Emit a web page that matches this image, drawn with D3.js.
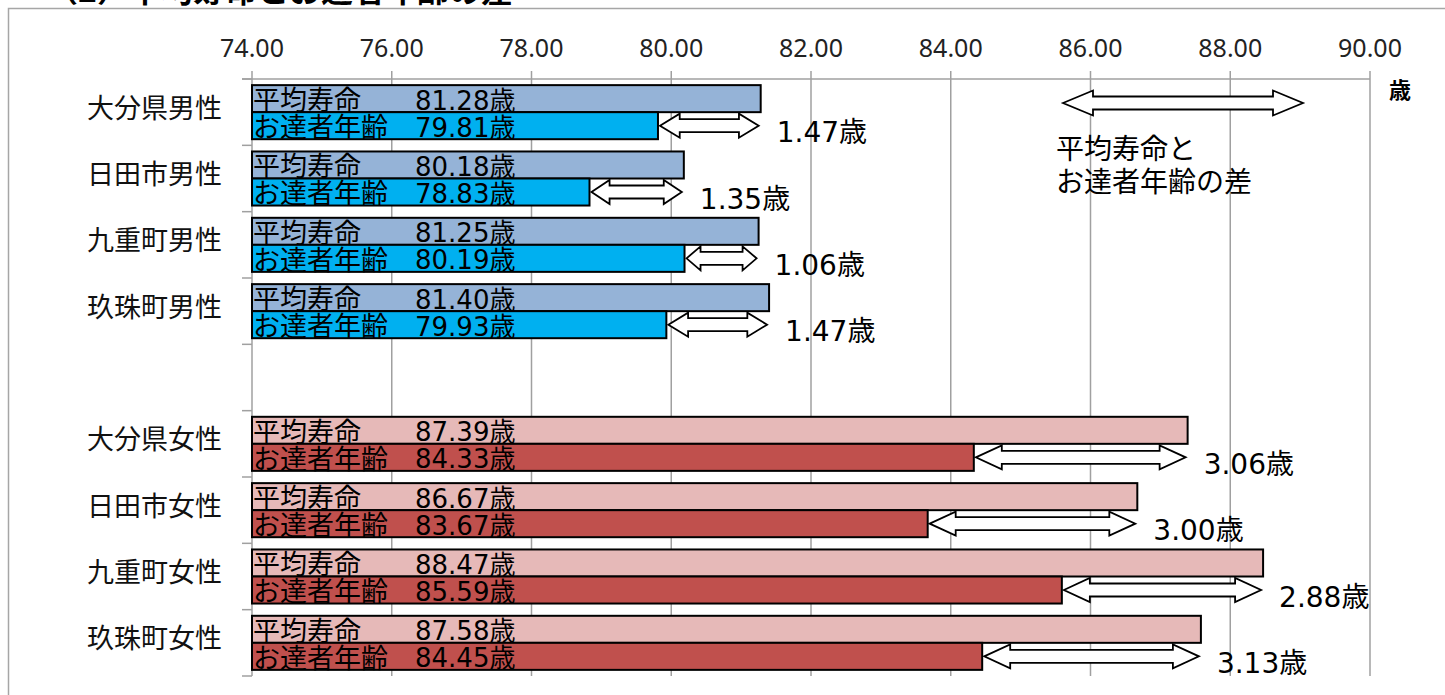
<!DOCTYPE html>
<html>
<head>
<meta charset="utf-8">
<script src="https://cdn.jsdelivr.net/npm/d3@7"></script>
<style>
  body { margin: 0; background: #fff; }
  svg { display: block; }
  text { font-family: "Noto Sans CJK JP", "Noto Sans", sans-serif; }
</style>
</head>
<body>
<div id="chart"></div>
<script>
// data
var slots = ["大分県男性","日田市男性","九重町男性","玖珠町男性","",
             "大分県女性","日田市女性","九重町女性","玖珠町女性"];
var areas = ["大分県男性","日田市男性","九重町男性","玖珠町男性",
             "大分県女性","日田市女性","九重町女性","玖珠町女性"];
var avgLife   = [81.28, 80.18, 81.25, 81.40, 87.39, 86.67, 88.47, 87.58];
var healthAge = [79.81, 78.83, 80.19, 79.93, 84.33, 83.67, 85.59, 84.45];
var gapYears  = [1.47, 1.35, 1.06, 1.47, 3.06, 3.00, 2.88, 3.13];
var sexes     = ["m","m","m","m","f","f","f","f"];
var ticks     = [74, 76, 78, 80, 82, 84, 86, 88, 90];
var seriesNames = ["平均寿命", "お達者年齢"];

var colAvg = {m: "#95b3d7", f: "#e6b9b8"};
var colHealth = {m: "#00b0f0", f: "#c0504d"};

var W = 1445, H = 695;
var svg = d3.select("#chart").append("svg")
    .attr("width", W)
    .attr("height", H);

// frame + cut-off title
svg.append("rect")
    .attr("x", 8.5).attr("y", 8.5)
    .attr("width", W).attr("height", H)
    .attr("fill", "none")
    .attr("stroke", "#a6a6a6")
    .attr("stroke-width", 1.5);

svg.append("text")
    .attr("x", 46).attr("y", 2)
    .style("font-size", "32px")
    .style("font-weight", "bold")
    .attr("fill", "#000")
    .text("（2）平均寿命とお達者年齢の差");

var x = d3.scaleLinear().domain([74, 90]).range([252, 1370]);
var y = d3.scaleBand().domain(slots).range([79, 676])
    .paddingInner(0.185).paddingOuter(0.0925);
var ySub = d3.scaleBand().domain(seriesNames).range([0, y.bandwidth()]);

var plotTop = 79, plotBottom = 676;

// vertical gridlines + top ticks
svg.append("g").selectAll("line")
    .data(ticks)
  .enter().append("line")
    .attr("x1", function(d) { return x(d); })
    .attr("x2", function(d) { return x(d); })
    .attr("y1", plotTop - 8)
    .attr("y2", plotBottom)
    .attr("stroke", "#a0a0a0")
    .attr("stroke-width", 1.5);

// top axis line
svg.append("line")
    .attr("x1", 242).attr("x2", x(90))
    .attr("y1", plotTop).attr("y2", plotTop)
    .attr("stroke", "#a0a0a0").attr("stroke-width", 1.5);

// category ticks on the left
var bounds = slots.map(function(d) { return y(d) - y.step() * y.paddingOuter(); });
bounds.push(plotBottom);
svg.append("g").selectAll("line")
    .data(bounds)
  .enter().append("line")
    .attr("x1", 242).attr("x2", x(74))
    .attr("y1", function(d) { return d; })
    .attr("y2", function(d) { return d; })
    .attr("stroke", "#a0a0a0").attr("stroke-width", 1.5);

// tick labels
svg.append("g").selectAll("text")
    .data(ticks)
  .enter().append("text")
    .attr("x", function(d) { return x(d); })
    .attr("y", 57)
    .attr("text-anchor", "middle")
    .style("font-family", "'Noto Sans', sans-serif")
    .style("font-size", "25px")
    .attr("fill", "#222")
    .text(function(d) { return d.toFixed(2); });

svg.append("text")
    .attr("x", 1400).attr("y", 98)
    .attr("text-anchor", "middle")
    .style("font-size", "22px")
    .style("font-weight", "bold")
    .text("歳");

// category labels
svg.append("g").selectAll("text")
    .data(areas)
  .enter().append("text")
    .attr("x", 222)
    .attr("y", function(d) { return y(d) + y.bandwidth() / 2 - 4; })
    .attr("dy", "0.35em")
    .attr("text-anchor", "end")
    .style("font-size", "27px")
    .attr("fill", "#111")
    .text(function(d) { return d; });

var rows = areas.map(function(a, i) {
  return {area: a, avg: avgLife[i], health: healthAge[i], gap: gapYears[i], sex: sexes[i]};
});

var row = svg.append("g").selectAll("g")
    .data(rows)
  .enter().append("g")
    .attr("transform", function(d) { return "translate(0," + y(d.area) + ")"; });

row.append("rect")
    .attr("x", x(74))
    .attr("y", ySub("平均寿命"))
    .attr("width", function(d) { return x(d.avg) - x(74); })
    .attr("height", ySub.bandwidth())
    .attr("fill", function(d) { return colAvg[d.sex]; })
    .attr("stroke", "#000").attr("stroke-width", 2);

row.append("rect")
    .attr("x", x(74))
    .attr("y", ySub("お達者年齢"))
    .attr("width", function(d) { return x(d.health) - x(74); })
    .attr("height", ySub.bandwidth())
    .attr("fill", function(d) { return colHealth[d.sex]; })
    .attr("stroke", "#000").attr("stroke-width", 2);

// text inside the bars
seriesNames.forEach(function(s, k) {
  row.append("text")
      .attr("x", x(74) + 1)
      .attr("y", ySub(s) + ySub.bandwidth() / 2 + 2)
      .attr("dy", "0.35em")
      .style("font-size", "27px")
      .attr("fill", "#000")
      .text(s);
  row.append("text")
      .attr("x", 415)
      .attr("y", ySub(s) + ySub.bandwidth() / 2 + 2)
      .attr("dy", "0.35em")
      .style("font-family", "'DejaVu Sans', 'Noto Sans CJK JP', sans-serif")
      .style("font-size", "26px")
      .attr("fill", "#000")
      .text(function(d) { return (k == 0 ? d.avg : d.health).toFixed(2) + "歳"; });
});

function arrowPath(x0, x1, cy, hl, hh, sh) {
  return "M" + x0 + "," + cy +
    "L" + (x0 + hl) + "," + (cy - hh) + "L" + (x0 + hl) + "," + (cy - sh) +
    "L" + (x1 - hl) + "," + (cy - sh) + "L" + (x1 - hl) + "," + (cy - hh) +
    "L" + x1 + "," + cy +
    "L" + (x1 - hl) + "," + (cy + hh) + "L" + (x1 - hl) + "," + (cy + sh) +
    "L" + (x0 + hl) + "," + (cy + sh) + "L" + (x0 + hl) + "," + (cy + hh) + "Z";
}

var cyH = ySub("お達者年齢") + ySub.bandwidth() / 2;

row.append("path")
    .attr("d", function(d) {
      var x0 = x(d.health) + 2, x1 = x(d.avg) - 2;
      return arrowPath(x0, x1, cyH, Math.min(26, (x1 - x0) * 0.2), 12, 6.5);
    })
    .attr("fill", "#fff")
    .attr("stroke", "#000").attr("stroke-width", 1.8);

row.append("text")
    .attr("x", function(d) { return x(d.avg) + 16; })
    .attr("y", cyH + 7)
    .attr("dy", "0.35em")
    .style("font-family", "'DejaVu Sans', 'Noto Sans CJK JP', sans-serif")
    .style("font-size", "28px")
    .attr("fill", "#000")
    .text(function(d) { return d.gap.toFixed(2) + "歳"; });

// legend
svg.append("path")
    .attr("d", arrowPath(1063, 1303, 103, 30, 12.5, 6.5))
    .attr("fill", "#fff")
    .attr("stroke", "#000").attr("stroke-width", 1.8);

svg.append("text")
    .attr("x", 1056).attr("y", 149)
    .attr("dy", "0.35em")
    .style("font-size", "28px")
    .text("平均寿命と");
svg.append("text")
    .attr("x", 1056).attr("y", 182)
    .attr("dy", "0.35em")
    .style("font-size", "28px")
    .text("お達者年齢の差");
</script>
</body>
</html>
